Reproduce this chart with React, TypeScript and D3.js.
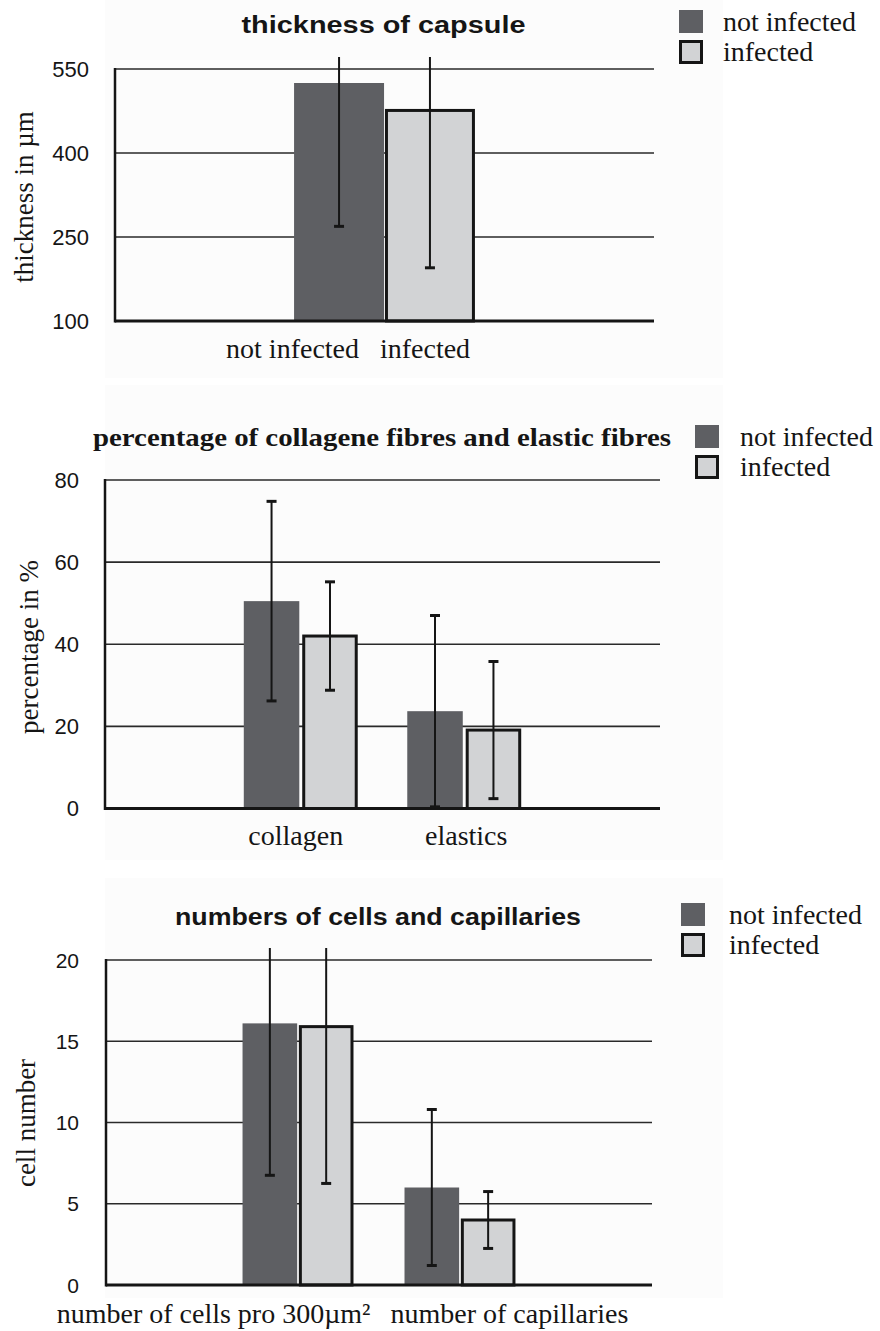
import React from "react";
import * as d3 from "d3";

// ---------- data ----------
const seriesNames = ["not infected", "infected"];

const capsuleCategories = ["capsule"];
const capsuleNotInfected = [525];
const capsuleInfected = [476];
const capsuleNotInfectedSD = [256];
const capsuleInfectedSD = [281];
const capsuleTicks = [100, 250, 400, 550];

const fibreCategories = ["collagen", "elastics"];
const fibreNotInfected = [50.5, 23.7];
const fibreInfected = [42, 19.1];
const fibreNotInfectedSD = [24.3, 23.3];
const fibreInfectedSD = [13.2, 16.7];
const fibreTicks = [0, 20, 40, 60, 80];

const cellCategories = ["number of cells pro 300µm²", "number of capillaries"];
const cellNotInfected = [16.1, 6.0];
const cellInfected = [15.9, 4.0];
const cellNotInfectedSD = [9.35, 4.8];
const cellInfectedSD = [9.65, 1.75];
const cellTicks = [0, 5, 10, 15, 20];

// ---------- styles ----------
const DARK = "#5e5f63";
const LIGHT = "#d2d3d5";
const INK = "#151515";
const SERIF = "'Liberation Serif', 'Times New Roman', serif";
const SANS = "'Liberation Sans', Arial, sans-serif";

type ChartProps = {
  categories: string[];
  ni: number[];
  inf: number[];
  niSD: number[];
  infSD: number[];
  ticks: number[];
  domain: [number, number];
  x0: number; x1: number; yTop: number; yBottom: number; clipTop: number;
  padInner: number; padOuter: number; barPad: number;
  title: string; titleFont: string; titleWeight: number; titleSize: number;
  titleX: number; titleY: number; titleLen: number;
  yLabel: string; yLabelX: number; yLabelY: number; yLabelSize: number;
  tickX: number; tickSize: number;
  legendX: number; legendY: number; legendText: number; legendGap: number;
  panel: [number, number, number, number];
  labels: { text: string; x: (gx: number, gw: number, sx: (s: string) => number, sw: number) => number; anchor: string }[];
  labelY: number;
};

function Chart(p: ChartProps) {
  const y = d3.scaleLinear().domain(p.domain).range([p.yBottom, p.yTop]);
  const gx = d3.scaleBand<string>().domain(p.categories).range([p.x0, p.x1]).paddingInner(p.padInner).paddingOuter(p.padOuter);
  const sx = d3.scaleBand<string>().domain(seriesNames).range([0, gx.bandwidth()]).paddingInner(p.barPad);
  const series = [
    { name: seriesNames[0], vals: p.ni, sd: p.niSD, fill: DARK },
    { name: seriesNames[1], vals: p.inf, sd: p.infSD, fill: LIGHT },
  ];
  const capW = 10;
  return (
    <g>
      <rect x={p.panel[0]} y={p.panel[1]} width={p.panel[2]} height={p.panel[3]} fill="#fcfcfc" />
      {p.ticks.filter((t) => t !== p.domain[0]).map((t) => (
        <line key={"g" + t} x1={p.x0} x2={p.x1} y1={y(t)} y2={y(t)} stroke="#2a2a2a" strokeWidth={1.6} />
      ))}
      {p.ticks.map((t) => (
        <text key={"t" + t} x={p.tickX} y={y(t)} dy="0.36em" textAnchor="end" fontFamily={SANS} fontSize={p.tickSize} fill={INK}>
          {t}
        </text>
      ))}
      {p.categories.map((c, ci) =>
        series.map((s) => {
          const bx = (gx(c) as number) + (sx(s.name) as number);
          const bw = sx.bandwidth();
          const top = y(s.vals[ci]);
          const isInf = s.name === seriesNames[1];
          return isInf ? (
            <rect key={c + s.name} x={bx + 1.5} y={top} width={bw - 3} height={p.yBottom - top} fill={s.fill} stroke={INK} strokeWidth={3} />
          ) : (
            <rect key={c + s.name} x={bx} y={top} width={bw} height={p.yBottom - top} fill={s.fill} />
          );
        })
      )}
      <line x1={p.x0} x2={p.x1} y1={p.yBottom} y2={p.yBottom} stroke={INK} strokeWidth={3} />
      <line x1={p.x0} x2={p.x0} y1={p.yTop - 1} y2={p.yBottom + 1.5} stroke={INK} strokeWidth={2.5} />
      {p.categories.map((c, ci) =>
        series.map((s) => {
          const cx = (gx(c) as number) + (sx(s.name) as number) + sx.bandwidth() / 2;
          const lo = y(s.vals[ci] - s.sd[ci]);
          const hiRaw = y(s.vals[ci] + s.sd[ci]);
          const clipped = hiRaw < p.clipTop;
          const hi = clipped ? p.clipTop : hiRaw;
          return (
            <g key={"e" + c + s.name}>
              <line x1={cx} x2={cx} y1={hi} y2={lo} stroke={INK} strokeWidth={2} />
              <line x1={cx - capW / 2} x2={cx + capW / 2} y1={lo} y2={lo} stroke={INK} strokeWidth={3} />
              {!clipped && <line x1={cx - capW / 2} x2={cx + capW / 2} y1={hi} y2={hi} stroke={INK} strokeWidth={3} />}
            </g>
          );
        })
      )}
      {p.labels.map((l, i) => {
        const c = p.categories[Math.min(i, p.categories.length - 1)];
        return (
          <text key={"l" + i} x={l.x(gx(c) as number, gx.bandwidth(), (s) => (gx(c) as number) + (sx(s) as number), sx.bandwidth())}
            y={p.labelY} textAnchor={l.anchor as any} fontFamily={SERIF} fontSize={28} fill={INK}>
            {l.text}
          </text>
        );
      })}
      <text x={p.titleX} y={p.titleY} textAnchor="middle" fontFamily={p.titleFont} fontWeight={p.titleWeight}
        fontSize={p.titleSize} textLength={p.titleLen} lengthAdjust="spacingAndGlyphs" fill={INK}>
        {p.title}
      </text>
      <text transform={`translate(${p.yLabelX},${p.yLabelY}) rotate(-90)`} textAnchor="middle" dy="0.32em"
        fontFamily={SERIF} fontSize={p.yLabelSize} fill={INK}>
        {p.yLabel}
      </text>
      {series.map((s, i) => (
        <g key={"lg" + i}>
          {i === 0 ? (
            <rect x={p.legendX} y={p.legendY + i * p.legendGap} width={24} height={23} fill={DARK} />
          ) : (
            <rect x={p.legendX + 1.5} y={p.legendY + i * p.legendGap + 1.5} width={21} height={21} fill={LIGHT} stroke={INK} strokeWidth={3} />
          )}
          <text x={p.legendText} y={p.legendY + i * p.legendGap + 21} fontFamily={SERIF} fontSize={28} fill={INK}>
            {s.name}
          </text>
        </g>
      ))}
    </g>
  );
}

export default function App() {
  return (
    <svg width={880} height={1331} style={{ position: "absolute", left: 0, top: 0, background: "#fff" }}>
      <Chart
        categories={capsuleCategories} ni={capsuleNotInfected} inf={capsuleInfected}
        niSD={capsuleNotInfectedSD} infSD={capsuleInfectedSD} ticks={capsuleTicks} domain={[100, 550]}
        x0={115} x1={654} yTop={69} yBottom={321} clipTop={57}
        padInner={0} padOuter={0.99} barPad={0.01}
        title="thickness of capsule" titleFont={SANS} titleWeight={700} titleSize={23}
        titleX={383.5} titleY={33} titleLen={284}
        yLabel="thickness in µm" yLabelX={24} yLabelY={197} yLabelSize={27}
        tickX={89} tickSize={22}
        legendX={679} legendY={10} legendText={723} legendGap={30}
        panel={[105, 0, 618, 378]}
        labels={[
          { text: "not infected", anchor: "end", x: (g, gw, s, sw) => s(seriesNames[0]) + sw - 25 },
          { text: "infected", anchor: "start", x: (g, gw, s, sw) => s(seriesNames[1]) - 5 },
        ]}
        labelY={358}
      />
      <Chart
        categories={fibreCategories} ni={fibreNotInfected} inf={fibreInfected}
        niSD={fibreNotInfectedSD} infSD={fibreInfectedSD} ticks={fibreTicks} domain={[0, 80]}
        x0={105} x1={660} yTop={480} yBottom={808.5} clipTop={468}
        padInner={0.303} padOuter={0.849} barPad={0.05}
        title="percentage of collagene fibres and elastic fibres" titleFont={SERIF} titleWeight={700} titleSize={25}
        titleX={382} titleY={446} titleLen={578}
        yLabel="percentage in %" yLabelX={29} yLabelY={647} yLabelSize={27}
        tickX={79} tickSize={22}
        legendX={695} legendY={425} legendText={740} legendGap={30}
        panel={[105, 385, 618, 475]}
        labels={[
          { text: fibreCategories[0], anchor: "middle", x: (g, gw) => g + gw / 2 - 5 },
          { text: fibreCategories[1], anchor: "middle", x: (g, gw) => g + gw / 2 + 2 },
        ]}
        labelY={845}
      />
      <Chart
        categories={cellCategories} ni={cellNotInfected} inf={cellInfected}
        niSD={cellNotInfectedSD} infSD={cellInfectedSD} ticks={cellTicks} domain={[0, 20]}
        x0={106} x1={652} yTop={960} yBottom={1285} clipTop={948}
        padInner={0.315} padOuter={0.843} barPad={0.03}
        title="numbers of cells and capillaries" titleFont={SANS} titleWeight={700} titleSize={23}
        titleX={378} titleY={925} titleLen={406}
        yLabel="cell number" yLabelX={26} yLabelY={1123} yLabelSize={27}
        tickX={79} tickSize={21}
        legendX={681} legendY={903} legendText={729} legendGap={30}
        panel={[105, 878, 618, 420]}
        labels={[
          { text: cellCategories[0], anchor: "end", x: (g, gw) => g + gw + 17 },
          { text: cellCategories[1], anchor: "start", x: (g) => g - 14 },
        ]}
        labelY={1323}
      />
    </svg>
  );
}
